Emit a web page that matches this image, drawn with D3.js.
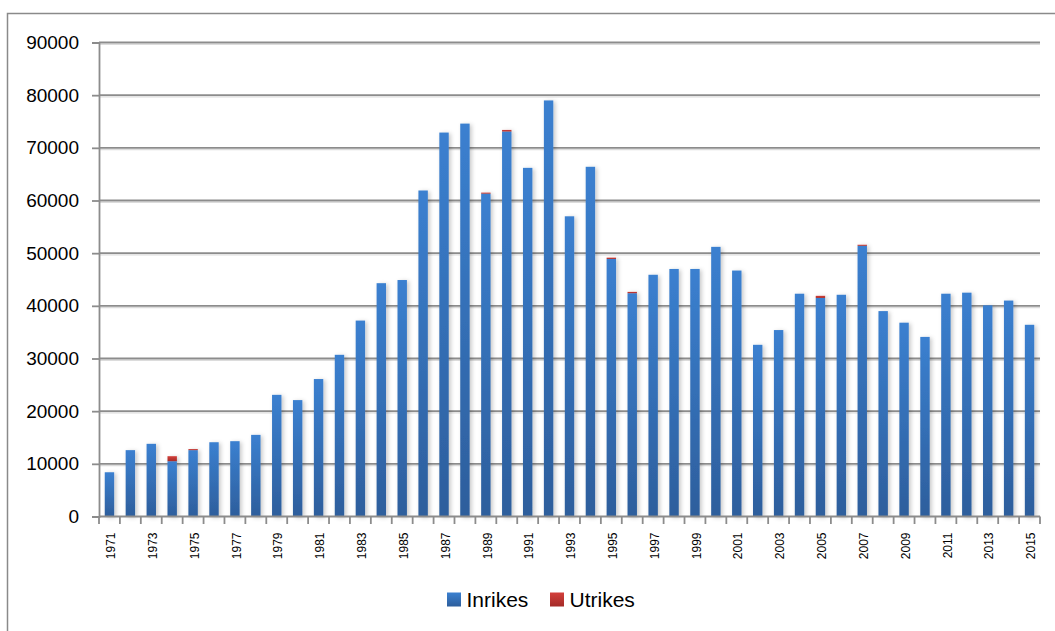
<!DOCTYPE html>
<html>
<head>
<meta charset="utf-8">
<script src="https://cdn.jsdelivr.net/npm/d3@7/dist/d3.min.js"></script>
<style>
  html, body { margin: 0; padding: 0; background: #ffffff; }
  svg { display: block; font-family: "Liberation Sans", Arial, sans-serif; }
</style>
</head>
<body>
<svg id="chart" width="1055" height="631"></svg>
<script>
// Yearly counts, split into domestic (Inrikes) and foreign (Utrikes)
const years = d3.range(1971, 2016).map(String);
const inrikes = [
  8400, 12600, 13800, 10500, 12600, 14100, 14300, 15500, 23100, 22100,
  26100, 30700, 37200, 44300, 44900, 61900, 72900, 74600, 61300, 73100,
  66200, 79000, 57000, 66400, 48900, 42400, 45900, 47000, 47000, 51200,
  46700, 32600, 35400, 42300, 41500, 42100, 51400, 39000, 36800, 34100,
  42300, 42500, 40100, 41000, 36400
];
const utrikes = [
  0, 0, 0, 950, 200, 0, 0, 0, 0, 0,
  0, 0, 0, 0, 0, 0, 0, 0, 200, 300,
  0, 0, 0, 0, 250, 250, 0, 0, 0, 0,
  0, 0, 0, 0, 400, 0, 200, 0, 0, 0,
  0, 0, 0, 0, 0
];
const seriesNames = ["Inrikes", "Utrikes"];
const yTicks = [0, 10000, 20000, 30000, 40000, 50000, 60000, 70000, 80000, 90000];

const rows = years.map((y, i) => ({ year: y, Inrikes: inrikes[i], Utrikes: utrikes[i] }));

const svg = d3.select("#chart");
const W = 1055, H = 631;
const margin = { left: 99, top: 42.5, right: 15, bottom: 114.5 };
const plotW = W - margin.left - margin.right;
const plotH = H - margin.top - margin.bottom;

// Gradients and bar shadow
const defs = svg.append("defs");
const gradBlue = defs.append("linearGradient").attr("id", "gBlue")
  .attr("x1", 0).attr("y1", 0).attr("x2", 0).attr("y2", 1);
gradBlue.append("stop").attr("offset", "0%").attr("stop-color", "#3b80d0");
gradBlue.append("stop").attr("offset", "100%").attr("stop-color", "#2d5e9c");
const gradRed = defs.append("linearGradient").attr("id", "gRed")
  .attr("x1", 0).attr("y1", 0).attr("x2", 0).attr("y2", 1);
gradRed.append("stop").attr("offset", "0%").attr("stop-color", "#d33f3b");
gradRed.append("stop").attr("offset", "100%").attr("stop-color", "#a42b28");
const shadow = defs.append("filter").attr("id", "barShadow")
  .attr("x", "-50%").attr("y", "-10%").attr("width", "200%").attr("height", "120%");
shadow.append("feDropShadow").attr("dx", 2).attr("dy", 1).attr("stdDeviation", 2.2)
  .attr("flood-color", "#000").attr("flood-opacity", 0.22);

// Outer chart frame
svg.append("rect")
  .attr("x", 7.5).attr("y", 13.5).attr("width", 1100).attr("height", 700)
  .attr("fill", "none").attr("stroke", "#8a8a8a").attr("stroke-width", 1.5);

const g = svg.append("g").attr("transform", `translate(${margin.left},${margin.top})`);

const pIn = 0.55;
const x = d3.scaleBand().domain(years).range([0, plotW]).paddingInner(pIn).paddingOuter(pIn / 2);
const y = d3.scaleLinear().domain([0, 90000]).range([plotH, 0]);

// Horizontal gridlines with a faint soft shadow below
g.append("g").selectAll("line.gs").data(yTicks.slice(1)).join("line")
  .attr("x1", 0).attr("x2", plotW)
  .attr("y1", d => y(d) + 1.8).attr("y2", d => y(d) + 1.8)
  .attr("stroke", "#dcdcdc").attr("stroke-width", 1.2);
g.append("g").selectAll("line.gl").data(yTicks.slice(1)).join("line")
  .attr("x1", 0).attr("x2", plotW)
  .attr("y1", d => y(d)).attr("y2", d => y(d))
  .attr("stroke", "#8c8c8c").attr("stroke-width", 1.8);

// Y axis
const yAxis = g.append("g")
  .call(d3.axisLeft(y).tickValues(yTicks).tickSize(7).tickPadding(13).tickFormat(d3.format("d")));
yAxis.select(".domain").attr("stroke", "#8c8c8c").attr("stroke-width", 1.8);
yAxis.selectAll(".tick line").attr("stroke", "#8c8c8c").attr("stroke-width", 1.8);
yAxis.selectAll(".tick text").attr("font-size", 19).attr("fill", "#000")
  .attr("font-family", "'Liberation Sans', Arial, sans-serif");

// Stacked bars
const stacked = d3.stack().keys(seriesNames)(rows);
const fills = { Inrikes: "url(#gBlue)", Utrikes: "url(#gRed)" };
const barLayer = g.append("g").attr("filter", "url(#barShadow)");
barLayer.selectAll("g.series").data(stacked).join("g")
  .attr("fill", d => fills[d.key])
  .selectAll("rect").data(d => d.filter(s => s[1] > s[0])).join("rect")
  .attr("x", d => x(d.data.year))
  .attr("width", x.bandwidth())
  .attr("y", d => y(d[1]))
  .attr("height", d => y(d[0]) - y(d[1]));

// X axis: baseline, boundary ticks, rotated labels for odd years
const step = x.step();
const boundaries = d3.range(years.length + 1).map(i => i * step);
g.append("line").attr("x1", 0).attr("x2", plotW).attr("y1", plotH).attr("y2", plotH)
  .attr("stroke", "#8c8c8c").attr("stroke-width", 1.8);
g.append("g").selectAll("line").data(boundaries).join("line")
  .attr("x1", d => d).attr("x2", d => d)
  .attr("y1", plotH).attr("y2", plotH + 7.5)
  .attr("stroke", "#8c8c8c").attr("stroke-width", 1.8);
g.append("g").selectAll("text").data(years.filter((d, i) => i % 2 === 0)).join("text")
  .attr("transform", d => `translate(${x(d) + x.bandwidth() / 2 + 1.5},${plotH + 16}) rotate(-90)`)
  .attr("text-anchor", "end")
  .attr("dy", "0.35em")
  .attr("font-size", 12)
  .attr("fill", "#000")
  .text(d => d);

// Legend
const legendItems = [
  { name: "Inrikes", fill: "url(#gBlue)", x: 447 },
  { name: "Utrikes", fill: "url(#gRed)", x: 550 }
];
const legend = svg.append("g");
legendItems.forEach(it => {
  legend.append("rect").attr("x", it.x).attr("y", 592.5).attr("width", 14).attr("height", 14)
    .attr("fill", it.fill);
  legend.append("text").attr("x", it.x + 19.5).attr("y", 606.5)
    .attr("font-size", 21).attr("fill", "#000").text(it.name);
});
</script>
</body>
</html>
